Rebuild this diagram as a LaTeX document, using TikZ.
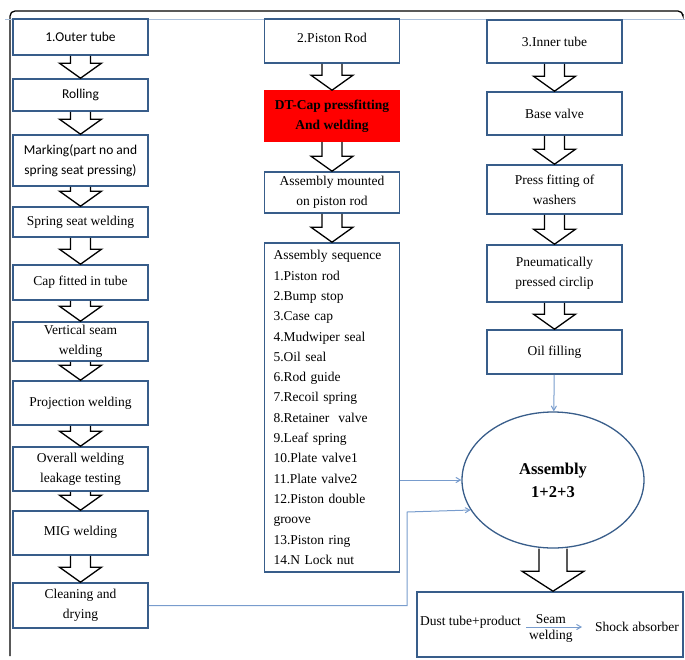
\documentclass[tikz,border=0pt]{standalone}
\usepackage{fontspec}
\setmainfont{Liberation Serif}
\newfontfamily\calibri{Carlito}
\usetikzlibrary{shapes.geometric, positioning, calc, arrows}
\definecolor{boxline}{RGB}{56,93,138}
\definecolor{linkblue}{RGB}{120,156,205}
\definecolor{paleblue}{RGB}{170,192,220}
\tikzset{x=1pt, y=-1pt, % one unit is one pixel of the sheet, y runs down
>=angle 60, % open heads on the thin blue links
process/.style={draw=boxline, line width=1.6pt, fill=white, minimum width=135pt,
  inner sep=1pt, align=center, font=\fontsize{13.5}{20}\selectfont}, % the step boxes
calib/.style={font=\fontsize{13.5}{20}\calibri}, % the three boxes set in Calibri
hollow/.style={draw=black, line width=1.3pt}, % the big white arrows
link/.style={->, draw=linkblue, line width=1pt}, % thin blue arrows
}
% big white arrow from the bottom of #1 to the top of #2
% #3 half shaft, #4 half head, #5 head length
\newcommand{\blockarrow}[5]{%
  \draw[hollow] let \p1=(#1.south), \p2=(#2.north) in
    (\x1-#3,\y1) -- (\x1-#3,\y2+#5) -- (\x1-#4,\y2+#5) -- (\x1,\y2)
    -- (\x1+#4,\y2+#5) -- (\x1+#3,\y2+#5) -- (\x1+#3,\y1);}

\begin{document}
\begin{tikzpicture}
  \useasboundingbox (0,0) rectangle (685,659);
  % frame of the sheet
  \draw[line width=1.3pt, rounded corners=5pt] (10,656) -- (10,11) -- (683,11) -- (683,14);
  \draw[paleblue, line width=1pt] (5,19) -- (685,19);

  % 1. outer tube
  \node[process, calib, minimum height=36pt] (ot1) at (80.5,37) {1.Outer tube};
  \node[process, calib, minimum height=32pt] (ot2) at (80.5,95) {Rolling};
  \node[process, calib, minimum height=51pt] (ot3) at (80.5,160.5) {Marking(part no and\\spring seat pressing)};
  \node[process, minimum height=30pt] (ot4) at (80.5,222) {Spring seat welding};
  \node[process, minimum height=35pt] (ot5) at (80.5,282.5) {Cap fitted in tube};
  \node[process, minimum height=39pt] (ot6) at (80.5,341.5) {Vertical seam\\welding};
  \node[process, minimum height=44pt] (ot7) at (80.5,403) {Projection welding};
  \node[process, minimum height=44pt] (ot8) at (80.5,469) {Overall welding\\leakage testing};
  \node[process, minimum height=44pt] (ot9) at (80.5,533) {\raisebox{5pt}{MIG welding}};
  \node[process, minimum height=45pt] (ot10) at (80.5,605.5) {Cleaning and\\drying};

  % 2. piston rod
  \node[process, minimum height=44pt] (pr1) at (332,41) {\raisebox{7pt}{2.Piston Rod}};
  \node[process, draw=red, fill=red, minimum height=50pt,
    font=\fontsize{13.5}{20}\selectfont\bfseries] (pr2) at (332,116) {DT-Cap pressfitting\\And welding};
  \node[process, minimum height=41pt] (pr3) at (332,192.5) {Assembly mounted\\on piston rod};
  \node[process, minimum height=329pt, align=left, text width=117pt,
    font=\fontsize{13.5}{20.3}\selectfont] (pr4) at (332,407.5)
    {Assembly sequence\\1.Piston rod\\2.Bump stop\\3.Case cap\\4.Mudwiper seal\\5.Oil seal\\
     6.Rod guide\\7.Recoil spring\\8.Retainer\ \ valve\\9.Leaf spring\\10.Plate valve1\\
     11.Plate valve2\\12.Piston double\\groove\\13.Piston ring\\14.N Lock nut};

  % 3. inner tube
  \node[process, minimum height=43pt] (it1) at (554.5,41.5) {3.Inner tube};
  \node[process, minimum height=43pt] (it2) at (554.5,113.5) {Base valve};
  \node[process, minimum height=49pt] (it3) at (554.5,189.5) {Press fitting of\\washers};
  \node[process, minimum height=57pt] (it4) at (554.5,273.5) {Pneumatically\\pressed circlip};
  \node[process, minimum height=44pt] (it5) at (554.5,352) {Oil filling};

  % assembly and product
  \node[ellipse, draw=boxline, line width=1.3pt, minimum width=182pt, minimum height=136pt,
    align=center, font=\fontsize{16.5}{23}\selectfont\bfseries] (asm) at (553,480) {Assembly\\1+2+3};
  \node[draw=boxline, line width=1.6pt, minimum width=266pt, minimum height=65pt] (sa) at (550,624.5) {};
  \node[font=\fontsize{13.5}{16}\selectfont, inner sep=1pt] (dust) at (470.5,622) {Dust tube+product};
  \node[font=\fontsize{13.5}{16}\selectfont, inner sep=1pt] (shock) at (637,627) {Shock absorber};
  \draw[link, shorten <=4pt, shorten >=12pt] (dust.east |- shock.west) -- (shock.west)
    node[pos=0.4, above=2pt, font=\fontsize{13.5}{16}\selectfont, inner sep=1pt] {Seam}
    node[pos=0.4, below=2pt, font=\fontsize{13.5}{16}\selectfont, inner sep=1pt] {welding};

  % white arrows down each column
  \foreach \a/\b in {ot1/ot2, ot2/ot3, ot3/ot4, ot4/ot5, ot5/ot6, ot6/ot7, ot7/ot8, ot8/ot9, ot9/ot10,
                     pr1/pr2, pr2/pr3, pr3/pr4, it1/it2, it2/it3, it3/it4, it4/it5}
    \blockarrow{\a}{\b}{10pt}{21pt}{15pt};
  \blockarrow{asm}{sa}{14pt}{31pt}{20pt};

  % blue links into the assembly
  \coordinate (turn) at (407,512);
  \draw[link] (it5) -- (asm);
  \draw[link] (pr4.east |- asm.west) -- (asm.west);
  \draw[link] (ot10.east) -| (turn) -- (asm.200);
\end{tikzpicture}
\end{document}
